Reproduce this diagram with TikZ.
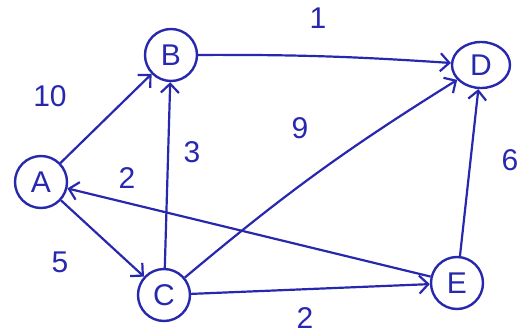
\documentclass[tikz,border=0pt]{standalone}
\usepackage{fontspec}
\setmainfont{Liberation Sans}
\usetikzlibrary{arrows.meta,shapes.geometric}
\definecolor{ink}{RGB}{40,40,175}
\tikzset{
  vtx/.style={draw=ink, text=ink, circle, line width=2.4pt, minimum size=52pt, inner sep=0pt, font=\fontsize{30}{34}\selectfont},
  lbl/.style={text=ink, font=\fontsize{30}{34}\selectfont},
  edge/.style={draw=ink, line width=2.2pt, -{Straight Barb[length=9pt,width=18pt,line width=2.2pt]}}
}
\begin{document}
\begin{tikzpicture}[x=1pt,y=-1pt]
\useasboundingbox (0,0) rectangle (528,335);
\node[vtx] (A) at (41,182) {A};
\node[vtx] (B) at (171,55) {B};
\node[vtx] (C) at (164,295) {C};
\node[vtx, ellipse, minimum width=58pt, minimum height=46pt] (D) at (481,65) {D};
\node[vtx] (E) at (457,283) {E};
\draw[edge] (A) -- (B);
\draw[edge] (A) -- (C);
\draw[edge] (C) -- (B);
\draw[edge] (E) -- (A);
\draw[edge] (B) to[bend left=2] (D);
\draw[edge] (C) to[bend left=4] (D);
\draw[edge] (C) -- (E);
\draw[edge] (E) -- (D);
\node[lbl] (l10) at (50,96) {10};
\node[lbl] (l1) at (318,18) {1};
\node[lbl] (l9) at (300,128) {9};
\node[lbl] (l3) at (192,152) {3};
\node[lbl] (l2a) at (127,178) {2};
\node[lbl] (l5) at (60,262) {5};
\node[lbl] (l2b) at (305,318) {2};
\node[lbl] (l6) at (510,160) {6};
\end{tikzpicture}
\end{document}
